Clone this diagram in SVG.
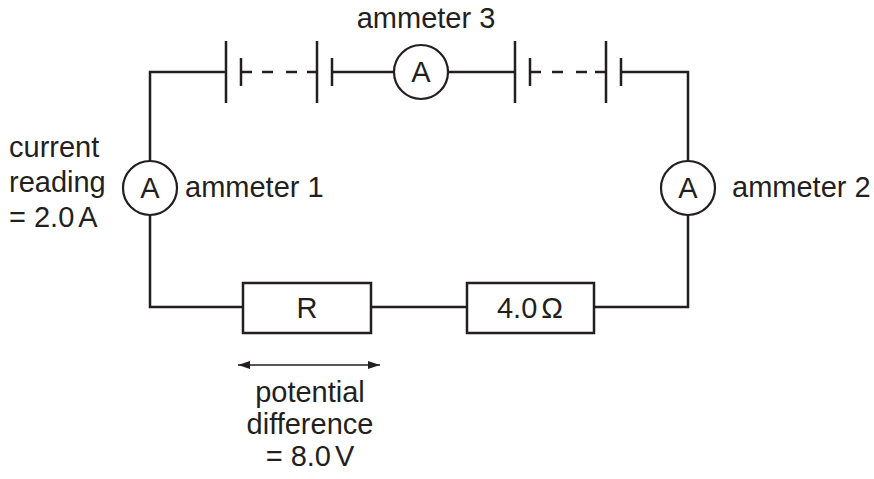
<svg xmlns="http://www.w3.org/2000/svg" width="874" height="479" viewBox="0 0 874 479">
<style>
.w{stroke:#231f20;stroke-width:2.5;fill:none;stroke-linecap:butt}
.d{stroke:#231f20;stroke-width:2.5;fill:none;stroke-dasharray:11 13}
.c{stroke:#231f20;stroke-width:2.2;fill:#fff}
.t{font-family:"Liberation Sans",Arial,sans-serif;font-size:29px;fill:#231f20}
.m{text-anchor:middle}
</style>
<defs>
<marker id="ah" viewBox="0 0 12 8" refX="12" refY="4" markerWidth="12" markerHeight="8" markerUnits="userSpaceOnUse" orient="auto-start-reverse">
<path d="M0,0 L12,4 L0,8 Z" fill="#231f20"/>
</marker>
</defs>
<g id="connectors">
<path class="w" d="M226,72 H150 V161 M150,215 V307 H243 M371,307 H467 M594,307 H688 V215 M688,161 V72 H621"/>
<path class="w" d="M332,72 H394 M448,72 H515"/>
<path class="w" d="M241,72 H252 M307,72 H317 M530,72 H541 M595,72 H606"/>
<path class="d" d="M262,72 H300"/>
<path class="d" d="M552,72 H590"/>
<line x1="238" y1="365" x2="380" y2="365" stroke="#231f20" stroke-width="1.5" marker-start="url(#ah)" marker-end="url(#ah)"/>
</g>
<g id="cell1">
<path class="w" d="M226,41 V103 M241,58 V86"/>
</g>
<g id="cell2">
<path class="w" d="M317,41 V103 M332,58 V86"/>
</g>
<g id="cell3">
<path class="w" d="M515,41 V103 M530,58 V86"/>
</g>
<g id="cell4">
<path class="w" d="M606,41 V103 M621,58 V86"/>
</g>
<g id="ammeter3">
<circle class="c" cx="421" cy="72" r="27"/>
<text class="t m" x="421" y="82">A</text>
<text class="t m" x="426" y="28">ammeter 3</text>
</g>
<g id="ammeter1">
<circle class="c" cx="150" cy="188" r="27"/>
<text class="t m" x="150" y="198">A</text>
<text class="t" x="185" y="197">ammeter 1</text>
<text class="t" x="9" y="157">current</text>
<text class="t" x="9" y="192">reading</text>
<text class="t" x="9" y="227">= 2.0<tspan dx="4">A</tspan></text>
</g>
<g id="ammeter2">
<circle class="c" cx="688" cy="188" r="27"/>
<text class="t m" x="688" y="198">A</text>
<text class="t" x="732" y="197">ammeter 2</text>
</g>
<g id="resistorR">
<rect class="w" x="243" y="283" width="128" height="50"/>
<text class="t m" x="307" y="318">R</text>
</g>
<g id="resistor4">
<rect class="w" x="467" y="283" width="127" height="50"/>
<text class="t m" x="530" y="318">4.0<tspan dx="4">Ω</tspan></text>
</g>
<g id="pdlabel">
<text class="t m" x="310" y="402">potential</text>
<text class="t m" x="310" y="434">difference</text>
<text class="t m" x="310" y="466">= 8.0<tspan dx="4">V</tspan></text>
</g>
</svg>
